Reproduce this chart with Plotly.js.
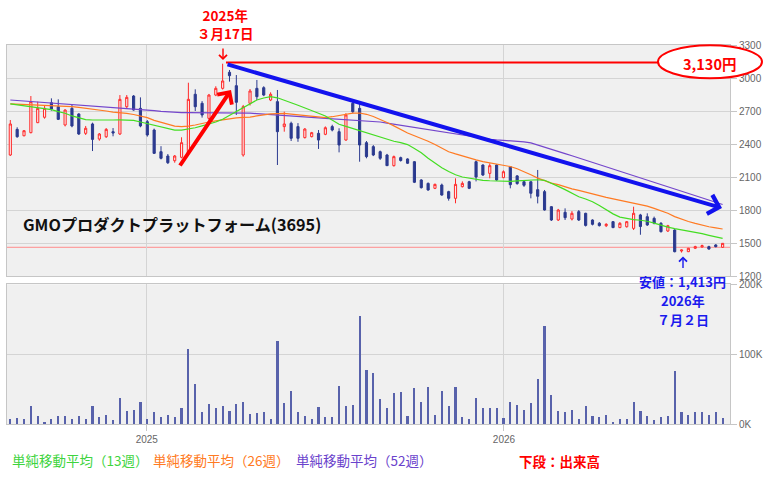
<!DOCTYPE html>
<html><head><meta charset="utf-8">
<script src="https://cdn.plot.ly/plotly-3.0.1.min.js"></script>
<style>html,body{margin:0;padding:0;background:#fff}#chart{width:772px;height:478px}</style>
</head><body><div id="chart"></div>
<script>
const weeks = ['2024-08-12','2024-08-19','2024-08-26','2024-09-02','2024-09-09','2024-09-16','2024-09-23','2024-09-30','2024-10-07','2024-10-14','2024-10-21','2024-10-28','2024-11-04','2024-11-11','2024-11-18','2024-11-25','2024-12-02','2024-12-09','2024-12-16','2024-12-23','2024-12-30',
'2025-01-06','2025-01-13','2025-01-20','2025-01-27','2025-02-03','2025-02-10','2025-02-17','2025-02-24','2025-03-03','2025-03-10','2025-03-17','2025-03-24','2025-03-31','2025-04-07','2025-04-14','2025-04-21','2025-04-28','2025-05-05','2025-05-12','2025-05-19','2025-05-26','2025-06-02','2025-06-09','2025-06-16','2025-06-23','2025-06-30','2025-07-07','2025-07-14','2025-07-21','2025-07-28','2025-08-04','2025-08-11','2025-08-18','2025-08-25','2025-09-01','2025-09-08','2025-09-15','2025-09-22','2025-09-29','2025-10-06','2025-10-13','2025-10-20','2025-10-27','2025-11-03','2025-11-10','2025-11-17','2025-11-24','2025-12-01','2025-12-08','2025-12-15','2025-12-22','2025-12-29',
'2026-01-05','2026-01-12','2026-01-19','2026-01-26','2026-02-02','2026-02-09','2026-02-16','2026-02-23','2026-03-02','2026-03-09','2026-03-16','2026-03-23','2026-03-30','2026-04-06','2026-04-13','2026-04-20','2026-04-27','2026-05-04','2026-05-11','2026-05-18','2026-05-25','2026-06-01','2026-06-08','2026-06-15','2026-06-22','2026-06-29','2026-07-06','2026-07-13','2026-07-20','2026-07-27','2026-08-03','2026-08-10'];

const openP = [2300,2533,2475,2503,2594,2643,2776,2739,2573,2724,
 2673,2497,2582,2445,2466,2512,2491,2739,2836,2724,
 2603,2527,2330,2291,2248,2279,2315,2852,2770,2633,
 2845,2906,3052,2930,2300,2770,2906,2912,2800,2785,
 2558,2588,2558,2458,2467,2497,2488,2558,2512,2436,
 2770,2724,2412,2376,2330,2300,2203,2276,2264,2239,
 2073,2042,1997,2027,1967,1906,2012,2057,2239,2209,
 2133,2209,2094,2194,2110,2057,2057,1985,1967,1830,
 1709,1779,1718,1785,1770,1709,1680,1657,1694,1640,
 1648,1633,1755,1739,1724,1679,1609,1618,1427,1421,
 1452,1464,1467,1482,1461];
const highP = [2618,2552,2525,2836,2785,2745,2815,2806,2715,2755,
 2680,2564,2594,2500,2545,2545,2845,2845,2845,2824,
 2618,2540,2380,2309,2300,2461,2957,2897,2790,2855,
 2925,3130,3073,3027,2755,2900,2982,2925,2870,2891,
 2694,2603,2590,2545,2510,2527,2560,2575,2543,2680,
 2790,2770,2427,2390,2340,2310,2295,2285,2270,2245,
 2080,2050,2040,2040,1975,2088,2060,2065,2250,2215,
 2224,2215,2160,2200,2118,2070,2060,2164,1982,1835,
 1810,1815,1790,1800,1775,1715,1690,1680,1700,1690,
 1700,1830,1765,1770,1740,1690,1665,1625,1440,1455,
 1475,1485,1475,1490,1500];
const lowP = [2291,2457,2470,2497,2590,2630,2703,2618,2560,2552,
 2482,2482,2336,2430,2455,2470,2482,2718,2703,2552,
 2467,2309,2260,2218,2230,2270,2300,2700,2640,2620,
 2835,2895,2967,2664,2285,2750,2800,2835,2790,2209,
 2512,2427,2420,2450,2460,2355,2480,2515,2324,2430,
 2680,2239,2270,2290,2255,2200,2195,2240,2218,2045,
 1995,1975,1990,1930,1885,1861,2005,1990,2060,2110,
 2088,2065,2090,1997,2030,2010,1906,1860,1795,1700,
 1700,1709,1705,1700,1650,1660,1650,1645,1635,1635,
 1640,1618,1575,1655,1670,1595,1600,1415,1413,1418,
 1445,1458,1440,1460,1455];
const closeP = [2582,2466,2521,2785,2724,2724,2718,2624,2709,2564,
 2491,2543,2442,2491,2533,2500,2806,2824,2709,2564,
 2482,2315,2270,2230,2291,2412,2806,2739,2664,2845,
 2906,2973,3021,2779,2739,2882,2830,2845,2852,2512,
 2582,2452,2452,2536,2503,2436,2548,2527,2391,2664,
 2694,2391,2285,2300,2270,2203,2285,2250,2225,2052,
 2003,1982,2033,1936,1906,2033,2042,1997,2100,2118,
 2203,2073,2148,2030,2040,2025,1952,1925,1800,1709,
 1800,1730,1770,1709,1660,1670,1658,1670,1640,1679,
 1694,1770,1650,1664,1680,1603,1657,1421,1436,1452,
 1467,1476,1445,1467,1497];
const volumeK = [7.6,9,7.6,26,11,3.3,7.6,12,12,7.6,
 12,7.6,26,9.5,13,6,37.6,19,20.5,32,
 7.6,17.6,10.5,13,10.5,23,107.6,57.6,17.6,29,
 23,26,19,29,32,14.8,16,17.6,7.6,119,
 30.5,47.6,17.6,12,7.6,24.7,9.5,10.5,54.7,26,
 27.6,154.7,77.6,73.3,36,23,44.7,46,11,52,
 32,53,13,47.6,26,53,10.5,7.6,37.6,23,
 23,23,9,32,27.6,20.5,30.5,64.7,140,42,
 19,17.6,20.5,7.6,26,12,10.5,13,3.3,7.6,
 7.6,32,19,12,6,10.5,12,76,17.6,13,
 17.6,17.6,13,17.6,9];
const ma13 = [2764,2755,2745,2740,2728,2720,2712,2695,2680,2655,
 2635,2622,2618,2616,2617,2618,2620,2620,2615,2600,
 2585,2570,2555,2538,2527,2527,2535,2548,2565,2580,
 2600,2625,2660,2700,2735,2765,2800,2818,2830,2820,
 2800,2775,2752,2730,2705,2680,2655,2620,2580,2560,
 2540,2525,2500,2480,2460,2440,2425,2412,2395,2360,
 2320,2270,2225,2185,2150,2120,2100,2088,2078,2070,
 2066,2062,2058,2060,2065,2070,2075,2075,2070,2045,
 2015,1985,1955,1920,1900,1875,1840,1800,1765,1735,
 1720,1712,1707,1698,1680,1660,1645,1630,1620,1610,
 1598,1585,1570,1555,1542];
const ma26 = [2764,2762,2760,2758,2756,2754,2752,2750,2745,2740,
 2733,2726,2718,2709,2700,2690,2685,2678,2668,2655,
 2640,2615,2595,2575,2562,2558,2562,2573,2588,2600,
 2610,2620,2630,2638,2642,2645,2655,2665,2673,2677,
 2678,2672,2665,2655,2648,2642,2640,2648,2658,2670,
 2680,2682,2670,2650,2625,2595,2565,2530,2500,2475,
 2452,2425,2395,2365,2330,2310,2290,2272,2255,2240,
 2228,2218,2210,2195,2175,2150,2120,2090,2065,2045,
 2030,2010,1992,1978,1960,1945,1930,1915,1902,1890,
 1878,1865,1850,1835,1815,1795,1770,1740,1715,1695,
 1678,1660,1648,1637,1627];
const ma52 = [2800,2795,2790,2785,2780,2775,2770,2766,2763,2757,
 2752,2747,2742,2739,2735,2730,2725,2721,2717,2714,
 2710,2703,2697,2692,2688,2685,2685,2685,2685,2685,
 2685,2685,2685,2684,2683,2680,2676,2671,2666,2661,
 2657,2653,2648,2645,2641,2637,2633,2629,2625,2621,
 2619,2618,2614,2608,2600,2590,2580,2568,2558,2550,
 2540,2530,2518,2508,2497,2488,2480,2470,2460,2450,
 2443,2437,2434,2430,2425,2420,2410,2392,2374,2354,
 2334,2313,2293,2273,2252,2232,2212,2192,2171,2151,
 2131,2111,2091,2070,2050,2030,2010,1990,1970,1950,
 1930,1910,1890,1870,1850];

const xTickVals = ['2025-01-01','2026-01-01'];
const xTickText = ['2025','2026'];
const priceTicks = [1200,1500,1800,2100,2400,2700,3000,3300];
const volTicks = [0,100,200];
const volTickText = ['0K','100K','200K'];
const currentPrice = 1461;
const highPrice = 3130;

const stockName = 'GMOプロダクトプラットフォーム(3695)';
const highLabel = '3,130円';
const highDate = ['2025年','３月17日'];
const lowLabel = ['安値：1,413円','2026年','７月２日'];
const legendTexts = ['単純移動平均（13週）','単純移動平均（26週）','単純移動平均（52週）'];
const volumeNote = '下段：出来高';

// pixel -> paper helpers for decorations (plot area: x 7..730, y 45..424)
const PX = p => (p - 7) / 723;
const PY = p => (424 - p) / 379;
const JP = 'Noto Sans CJK JP, sans-serif';
const per = {xperiod: 7*86400000, xperiodalignment: 'middle'};

const traces = [
  Object.assign({type:'candlestick', x: weeks, open: openP, high: highP, low: lowP, close: closeP,
    xaxis:'x', yaxis:'y', whiskerwidth: 0, line:{width:1},
    increasing:{line:{color:'#ff2a2a', width:1}, fillcolor:'#fbe9e9'},
    decreasing:{line:{color:'#2b3a8f', width:1}, fillcolor:'#2b3a8f'},
    hoverinfo:'skip', showlegend:false}, per),
  Object.assign({type:'scatter', mode:'lines', x: weeks, y: ma52, xaxis:'x', yaxis:'y',
    line:{color:'#7446cc', width:1.2}, hoverinfo:'skip'}, per),
  Object.assign({type:'scatter', mode:'lines', x: weeks, y: ma26, xaxis:'x', yaxis:'y',
    line:{color:'#ff7a22', width:1.2}, hoverinfo:'skip'}, per),
  Object.assign({type:'scatter', mode:'lines', x: weeks, y: ma13, xaxis:'x', yaxis:'y',
    line:{color:'#44dd22', width:1.2}, hoverinfo:'skip'}, per),
  Object.assign({type:'bar', x: weeks, y: volumeK, xaxis:'x2', yaxis:'y2',
    width: 2.2*86400000, marker:{color:'#5862ab', line:{width:0}}, hoverinfo:'skip'}, per)
];

const xRange = ['2024-08-11 02:38', '2026-08-20 01:00'];
const gridC = '#d4d4d4', lineC = '#c6c6c6';
const tickF = {family:'Liberation Sans, Arial, sans-serif', size:10, color:'#666'};

const layout = {
  width: 772, height: 478,
  margin: {l:7, r:42, t:45, b:54, pad:0},
  paper_bgcolor:'#ffffff', plot_bgcolor:'#f0f0f0',
  showlegend:false, boxgap:0.55, boxgroupgap:0.3, bargap:0,
  font: tickF,
  xaxis: {type:'date', range: xRange, domain:[0,1], anchor:'y', tickvals: xTickVals, ticktext: xTickText,
    showticklabels:false, ticks:'', showgrid:true, gridcolor:gridC, gridwidth:1,
    showline:true, mirror:true, linecolor:lineC, linewidth:1, zeroline:false,
    rangeslider:{visible:false}, fixedrange:true},
  xaxis2: {type:'date', range: xRange, domain:[0,1], anchor:'y2', matches:'x', tickvals: xTickVals, ticktext: xTickText,
    showticklabels:true, ticks:'outside', ticklen:6, tickcolor:lineC, tickfont:tickF,
    showgrid:true, gridcolor:gridC, showline:true, mirror:true, linecolor:lineC, zeroline:false},
  yaxis: {domain:[0.3905,1], range:[1200,3300], anchor:'x', side:'right', tickvals: priceTicks,
    ticks:'outside', ticklen:6, tickcolor:lineC, tickfont:tickF, showgrid:true, gridcolor:gridC,
    showline:true, mirror:true, linecolor:lineC, zeroline:false},
  yaxis2: {domain:[0,0.3686], range:[0,200], anchor:'x2', side:'right', tickvals: volTicks, ticktext: volTickText,
    ticks:'outside', ticklen:6, tickcolor:lineC, tickfont:tickF, showgrid:true, gridcolor:gridC,
    showline:true, mirror:true, linecolor:lineC, zeroline:false},
  shapes: [
    {type:'line', xref:'paper', yref:'y', x0:0, x1:1, y0:currentPrice, y1:currentPrice,
      line:{color:'#ff8c8c', width:1}, layer:'below'},
    {type:'line', xref:'paper', yref:'y', x0:PX(226), x1:PX(659), y0:highPrice+10, y1:highPrice+10,
      line:{color:'#ff0000', width:2}, layer:'above'},
    {type:'circle', xref:'paper', yref:'paper', x0:PX(658), x1:PX(762), y0:PY(78.3), y1:PY(45.3),
      fillcolor:'#ffffff', line:{color:'#ff0000', width:2}, layer:'above'}
  ],
  annotations: [
    // stock name
    {xref:'paper', yref:'paper', x:PX(20.5), y:PY(223.5), xanchor:'left', yanchor:'middle', showarrow:false,
      text:'<b>'+stockName+'</b>', font:{family:JP, size:16.2, color:'#111'}},
    // high price label
    {xref:'paper', yref:'paper', x:PX(709.5), y:PY(63.5), xanchor:'center', yanchor:'middle', showarrow:false,
      text:'<b>'+highLabel+'</b>', font:{family:JP, size:14.5, color:'#ff0000'}},
    // high date (two lines)
    {xref:'paper', yref:'paper', x:PX(224.5), y:PY(24.5), xanchor:'center', yanchor:'middle', showarrow:false,
      text:'<b>'+highDate[0]+'</b><br><b>'+highDate[1]+'</b>', font:{family:JP, size:13.5, color:'#ff0000'}},
    // small down arrow to high
    {xref:'paper', yref:'paper', x:PX(223), y:PY(60), ax:0, ay:-13, text:'', showarrow:true,
      arrowhead:4, arrowsize:1.1, arrowwidth:1.4, arrowcolor:'#ff0000'},
    // red rising arrow
    {xref:'paper', yref:'paper', x:PX(231), y:PY(90), ax:-52, ay:77, text:'', showarrow:true,
      arrowhead:4, arrowsize:0.85, arrowwidth:4, arrowcolor:'#ff0000'},
    // blue trend arrow
    {xref:'paper', yref:'paper', x:PX(722), y:PY(208), ax:-496, ay:-144, text:'', showarrow:true,
      arrowhead:4, arrowsize:0.95, arrowwidth:4, arrowcolor:'#1212ee'},
    // low arrow
    {xref:'paper', yref:'paper', x:PX(683), y:PY(256.5), ax:0, ay:13, text:'', showarrow:true,
      arrowhead:4, arrowsize:1.1, arrowwidth:1.4, arrowcolor:'#1a1aee'},
    // low labels
    {xref:'paper', yref:'paper', x:PX(682.5), y:PY(281.5), xanchor:'center', yanchor:'middle', showarrow:false,
      text:'<b>'+lowLabel[0]+'</b>', font:{family:JP, size:13, color:'#1a1aee'}},
    {xref:'paper', yref:'paper', x:PX(682.5), y:PY(300.7), xanchor:'center', yanchor:'middle', showarrow:false,
      text:'<b>'+lowLabel[1]+'</b>', font:{family:JP, size:13, color:'#1a1aee'}},
    {xref:'paper', yref:'paper', x:PX(683), y:PY(319.3), xanchor:'center', yanchor:'middle', showarrow:false,
      text:'<b>'+lowLabel[2]+'</b>', font:{family:JP, size:13, color:'#1a1aee'}},
    // legend texts
    {xref:'paper', yref:'paper', x:PX(10), y:PY(460), xanchor:'left', yanchor:'middle', showarrow:false,
      text:legendTexts[0], font:{family:JP, size:13.5, color:'#3ed43e'}},
    {xref:'paper', yref:'paper', x:PX(151), y:PY(460), xanchor:'left', yanchor:'middle', showarrow:false,
      text:legendTexts[1], font:{family:JP, size:13.5, color:'#ff7a22'}},
    {xref:'paper', yref:'paper', x:PX(293.5), y:PY(460), xanchor:'left', yanchor:'middle', showarrow:false,
      text:legendTexts[2], font:{family:JP, size:13.5, color:'#6a42cc'}},
    {xref:'paper', yref:'paper', x:PX(517), y:PY(460.5), xanchor:'left', yanchor:'middle', showarrow:false,
      text:'<b>'+volumeNote+'</b>', font:{family:JP, size:13.5, color:'#ff0000'}}
  ]
};

Plotly.newPlot('chart', traces, layout, {staticPlot:true, displayModeBar:false});
</script>
</body></html>
